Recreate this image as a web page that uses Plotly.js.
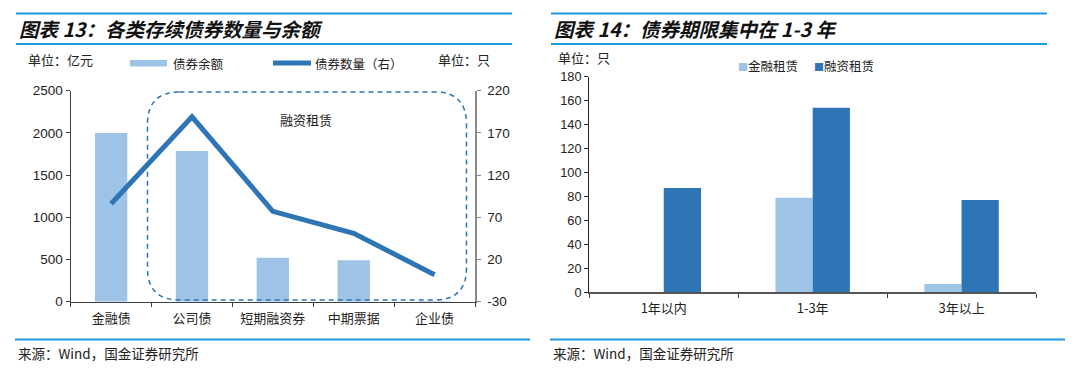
<!DOCTYPE html>
<html>
<head>
<meta charset="utf-8">
<script src="https://cdn.plot.ly/plotly-3.0.1.min.js"></script>
<style>
html,body{margin:0;padding:0;background:#fff;}
#chart{width:1080px;height:370px;}
</style>
</head>
<body>
<div id="chart"></div>
<script>
// ---------- data ----------
var bondTypes = ['金融债', '公司债', '短期融资券', '中期票据', '企业债'];
var bondBalance = [2000, 1785, 521, 490, 8];          // 债券余额（亿元）
var bondCount = [86, 189, 77, 51, 2];                  // 债券数量（只，右轴）
var termCats = ['1年以内', '1-3年', '3年以上'];
var finLeaseCount = [0, 79, 7];                        // 金融租赁
var leaseCount = [87, 154, 77];                        // 融资租赁
var leftTicks = [0, 500, 1000, 1500, 2000, 2500];
var rightTicks = [-30, 20, 70, 120, 170, 220];
var termTicks = [0, 20, 40, 60, 80, 100, 120, 140, 160, 180];

// ---------- helpers (page pixels -> paper) ----------
var W = 1080, H = 370;
function px(x){ return x / W; }
function py(y){ return 1 - y / H; }

var LIGHT = '#9DC3E6', DARK = '#2E75B6', RULE = '#1E9AE0';
var NUM = 'Liberation Sans, Arial, sans-serif';
var CJK = 'Noto Sans CJK SC, Liberation Sans, sans-serif';

var traces = [
  {type:'bar', x:bondTypes, y:bondBalance, xaxis:'x', yaxis:'y', name:'债券余额',
   marker:{color:LIGHT, line:{width:0}}, width:0.4, showlegend:false, hoverinfo:'x+y'},
  {type:'scatter', mode:'lines', x:bondTypes, y:bondCount, xaxis:'x', yaxis:'y2', name:'债券数量（右）',
   line:{color:DARK, width:5}, showlegend:false},
  {type:'bar', x:termCats, y:finLeaseCount, xaxis:'x3', yaxis:'y3', name:'金融租赁',
   marker:{color:LIGHT, line:{width:0}}, width:0.25, offset:-0.25, showlegend:false},
  {type:'bar', x:termCats, y:leaseCount, xaxis:'x3', yaxis:'y3', name:'融资租赁',
   marker:{color:DARK, line:{width:0}}, width:0.25, offset:0, showlegend:false}
];

function rrPath(l, t, r, b, rad){
  var rx = rad / W, ry = rad / H;
  var L = px(l), R = px(r), T = py(t), B = py(b);
  return 'M ' + (L+rx) + ',' + T +
    ' L ' + (R-rx) + ',' + T +
    ' Q ' + R + ',' + T + ' ' + R + ',' + (T-ry) +
    ' L ' + R + ',' + (B+ry) +
    ' Q ' + R + ',' + B + ' ' + (R-rx) + ',' + B +
    ' L ' + (L+rx) + ',' + B +
    ' Q ' + L + ',' + B + ' ' + L + ',' + (B+ry) +
    ' L ' + L + ',' + (T-ry) +
    ' Q ' + L + ',' + T + ' ' + (L+rx) + ',' + T + ' Z';
}

function hline(x0, x1, y){
  return {type:'line', xref:'paper', yref:'paper', x0:px(x0), x1:px(x1), y0:py(y), y1:py(y),
          line:{color:RULE, width:2}};
}

var shapes = [
  hline(16, 512, 13.5), hline(16, 512, 44), hline(15, 530, 339.5),
  hline(551, 1047, 13.5), hline(551, 1047, 44), hline(550, 1065, 339.5),
  {type:'path', xref:'paper', yref:'paper', path:rrPath(147.5, 92, 466.5, 300, 32),
   line:{color:DARK, width:1.5, dash:'5px,4px'}, fillcolor:'rgba(0,0,0,0)'},
  // left legend swatches
  {type:'rect', xref:'paper', yref:'paper', x0:px(130), x1:px(167), y0:py(60), y1:py(66.5),
   fillcolor:LIGHT, line:{width:0}},
  {type:'line', xref:'paper', yref:'paper', x0:px(273), x1:px(311), y0:py(63), y1:py(63),
   line:{color:DARK, width:5}}
];

function txt(x, y, s, size, opts){
  var a = {xref:'paper', yref:'paper', x:px(x), y:py(y), text:s, showarrow:false,
           xanchor:'left', yanchor:'middle', font:{family:CJK, size:size, color:'#222'}};
  if (opts) for (var k in opts) a[k] = opts[k];
  return a;
}

var annotations = [
  txt(17, 28.5, '<b><i>图表 13：各类存续债券数量与余额</i></b>', 19.5, {font:{family:CJK, size:19.5, color:'#111'}}),
  txt(552, 28.5, '<b><i>图表 14：债券期限集中在 1-3 年</i></b>', 19.5, {font:{family:CJK, size:19.5, color:'#111'}}),
  txt(26, 59, '单位：亿元', 13),
  txt(436, 59, '单位：只', 13),
  txt(171, 63.5, '债券余额', 12.5),
  txt(313, 63.5, '债券数量（右）', 12.5),
  txt(306.5, 119.5, '融资租赁', 13, {xanchor:'center'}),
  txt(556, 58, '单位：只', 13),
  txt(736, 65, '<span style="color:' + LIGHT + ';font-size:10px">■</span>金融租赁', 12.5),
  txt(812, 65, '<span style="color:' + DARK + ';font-size:10px">■</span>融资租赁', 12.5),
  txt(16, 353, '来源：Wind，国金证券研究所', 13.5),
  txt(551, 353, '来源：Wind，国金证券研究所', 13.5)
];

var layout = {
  width:W, height:H,
  margin:{l:0, r:0, t:0, b:0},
  paper_bgcolor:'#fff', plot_bgcolor:'rgba(0,0,0,0)',
  font:{family:NUM, color:'#222'},
  barmode:'overlay',
  showlegend:false,
  xaxis:{domain:[px(70.7), px(475)], anchor:'y', type:'category',
         showline:true, linecolor:'#404040', linewidth:1.2,
         ticks:'outside', tickson:'boundaries', ticklen:4, tickcolor:'#404040',
         tickfont:{family:CJK, size:13, color:'#222'}, showgrid:false, zeroline:false,
         ticklabelstandoff:4},
  yaxis:{domain:[1 - 301.7/H, 1 - 90.7/H], anchor:'x', range:[0, 2500],
         tickvals:leftTicks, ticktext:leftTicks.map(String),
         showline:true, linecolor:'#404040', linewidth:1.2,
         ticks:'outside', ticklen:4, tickcolor:'#404040',
         tickfont:{family:NUM, size:13.5, color:'#222'}, showgrid:false, zeroline:false},
  yaxis2:{overlaying:'y', side:'right', anchor:'x', range:[-30, 220],
          tickvals:rightTicks, ticktext:rightTicks.map(String),
          showline:true, linecolor:'#888', linewidth:1.5,
          ticks:'outside', ticklen:4, tickcolor:'#888',
          tickfont:{family:NUM, size:13.5, color:'#222'}, showgrid:false, zeroline:false,
          ticklabelstandoff:4},
  xaxis3:{domain:[px(589.3), px(1036)], anchor:'y3', type:'category',
          showline:true, linecolor:'#555', linewidth:1.2,
          ticks:'outside', tickson:'boundaries', ticklen:4, tickcolor:'#333',
          tickfont:{family:CJK, size:13, color:'#222'}, showgrid:false, zeroline:false,
          ticklabelstandoff:4},
  yaxis3:{domain:[1 - 292.3/H, 1 - 76.7/H], anchor:'x3', range:[0, 180],
          tickvals:termTicks, ticktext:termTicks.map(String),
          showline:true, linecolor:'#222', linewidth:1.2,
          ticks:'outside', ticklen:4, tickcolor:'#222',
          tickfont:{family:NUM, size:12.8, color:'#222'}, showgrid:false, zeroline:false},
  shapes:shapes,
  annotations:annotations
};

Plotly.newPlot('chart', traces, layout, {displayModeBar:false, staticPlot:true});
</script>
</body>
</html>
